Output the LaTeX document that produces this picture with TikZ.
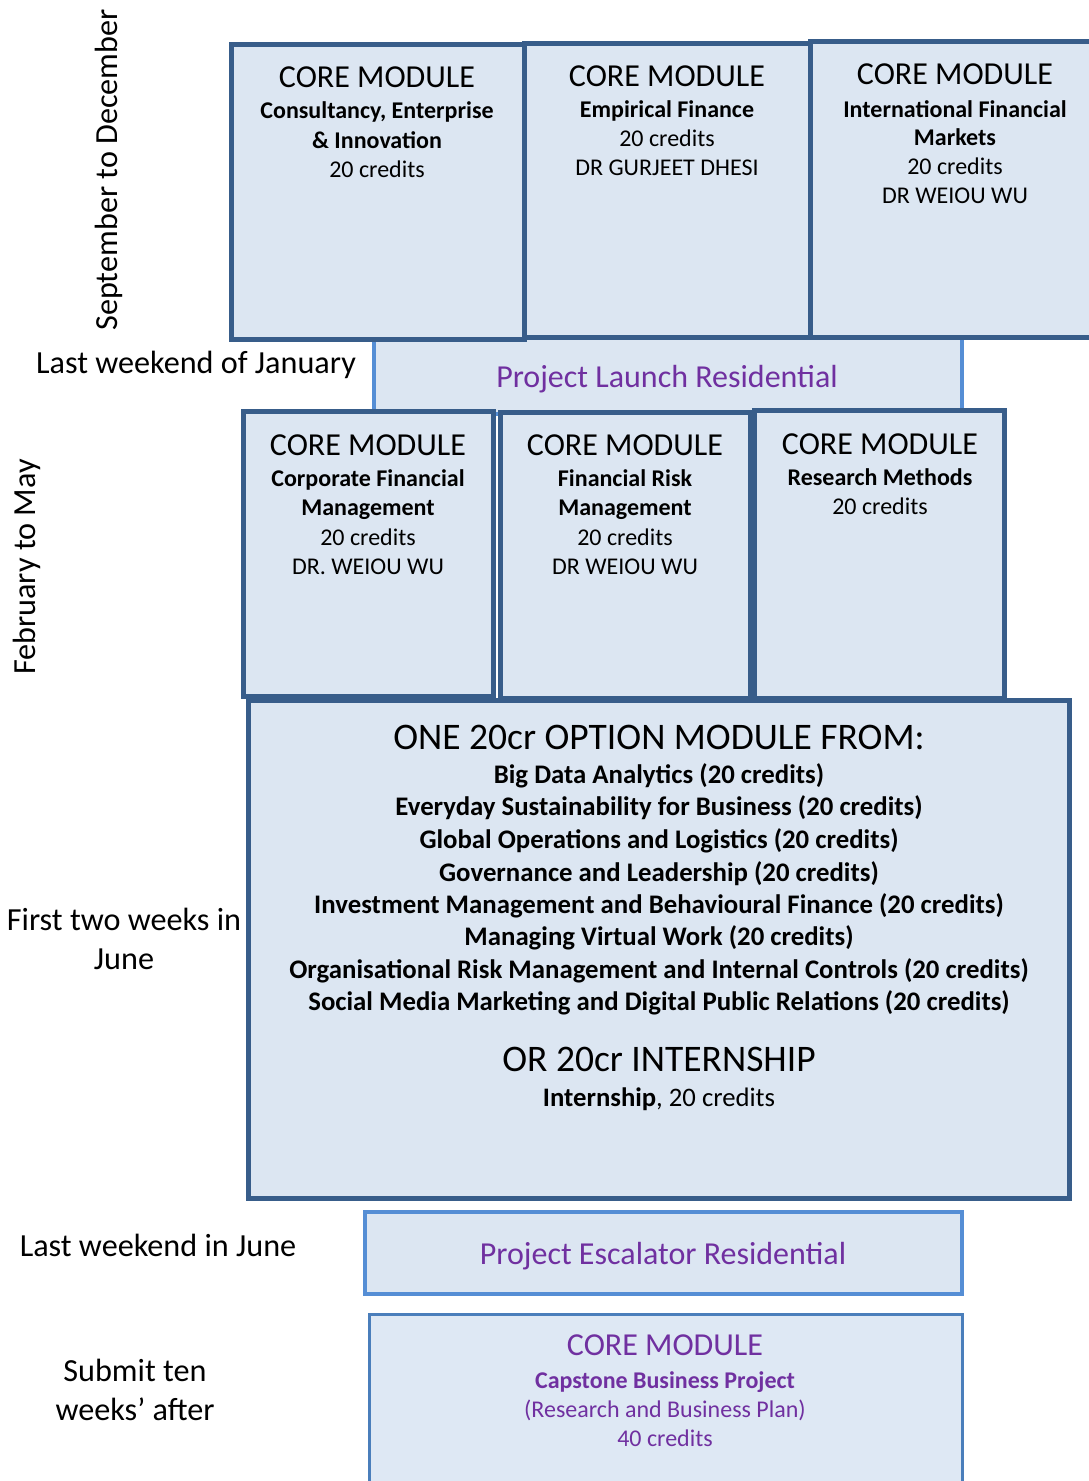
\documentclass[tikz,border=0pt]{standalone}
\usepackage{fontspec}
\setmainfont{Carlito}
\definecolor{darkb}{HTML}{385D8A}
\definecolor{fillb}{HTML}{DCE6F2}
\definecolor{fillc}{HTML}{DEE8F4}
\definecolor{lightb}{HTML}{558ED5}
\definecolor{capb}{HTML}{4A7EBB}
\definecolor{purp}{HTML}{7030A0}
\begin{document}
\begin{tikzpicture}[x=1pt,y=-1pt,
  corebox/.style={draw=darkb, line width=5pt, fill=fillb},
  resbox/.style={draw=lightb, line width=4pt, fill=fillb},
  capbox/.style={draw=capb, line width=3pt, fill=fillc},
  ttl/.style={anchor=base, inner sep=0pt, font=\fontsize{32}{36}\selectfont},
  txt/.style={anchor=base, inner sep=0pt, font=\fontsize{24}{29}\selectfont},
  btxt/.style={anchor=base, inner sep=0pt, font=\fontsize{24}{29}\selectfont\bfseries},
  opt/.style={anchor=base, inner sep=0pt, font=\fontsize{26.8}{31}\selectfont\bfseries},
  itxt/.style={anchor=base, inner sep=0pt, font=\fontsize{26.7}{31}\selectfont},
  lbl/.style={anchor=base, inner sep=0pt, font=\fontsize{32.2}{38}\selectfont},
  big/.style={anchor=base, inner sep=0pt, font=\fontsize{37.5}{42}\selectfont}]
\useasboundingbox (0,0) rectangle (1089,1481);
\clip (0,0) rectangle (1089,1481);

% Project Launch Residential (behind the rows)
\path[resbox] (373.5,336) rectangle (962,414);
% top row
\path[corebox] (231.5,44.5) rectangle (524,339.5);
\path[corebox] (524,43) rectangle (810.5,337.5);
\path[corebox] (810.5,41.5) rectangle (1110,337.5);
% second row
\path[corebox] (243.5,411.5) rectangle (493.5,696);
\path[corebox] (500.5,412) rectangle (750.5,698);
\path[corebox] (754.5,410.5) rectangle (1004.5,698);
% option box
\path[corebox] (248.5,700.5) rectangle (1069.5,1198.5);
% escalator
\path[resbox] (364.5,1211.5) rectangle (961.5,1294);
% capstone
\path[capbox] (369.3,1314.5) rectangle (962,1500);

% box 1
\node[ttl]  (b1t) at (377,87) {CORE MODULE};
\node[btxt] (b1a) at (377,118) {Consultancy, Enterprise};
\node[btxt] (b1b) at (377,148) {\& Innovation};
\node[txt]  (b1c) at (377,177) {20 credits};
% box 2
\node[ttl]  (b2t) at (667,86) {CORE MODULE};
\node[btxt] (b2a) at (667,117) {Empirical Finance};
\node[txt]  (b2b) at (667,146) {20 credits};
\node[txt]  (b2c) at (667,175) {DR GURJEET DHESI};
% box 3
\node[ttl]  (b3t) at (955,84) {CORE MODULE};
\node[btxt] (b3a) at (955,117) {International Financial};
\node[btxt] (b3b) at (955,145) {Markets};
\node[txt]  (b3c) at (955,174) {20 credits};
\node[txt]  (b3d) at (955,203) {DR WEIOU WU};

% launch residential
\node[ttl, text=purp] (lr) at (667,387) {Project Launch Residential};

% box 4
\node[ttl]  (b4t) at (368,455) {CORE MODULE};
\node[btxt] (b4a) at (368,486) {Corporate Financial};
\node[btxt] (b4b) at (368,515) {Management};
\node[txt]  (b4c) at (368,545) {20 credits};
\node[txt]  (b4d) at (368,574) {DR. WEIOU WU};
% box 5
\node[ttl]  (b5t) at (625,455) {CORE MODULE};
\node[btxt] (b5a) at (625,486) {Financial Risk};
\node[btxt] (b5b) at (625,515) {Management};
\node[txt]  (b5c) at (625,545) {20 credits};
\node[txt]  (b5d) at (625,574) {DR WEIOU WU};
% box 6
\node[ttl]  (b6t) at (880,454) {CORE MODULE};
\node[btxt] (b6a) at (880,485) {Research Methods};
\node[txt]  (b6b) at (880,514) {20 credits};

% option box
\node[big] (oh) at (659,749) {ONE 20cr OPTION MODULE FROM:};
\node[opt] (o1) at (659,783) {Big Data Analytics (20 credits)};
\node[opt] (o2) at (659,815) {Everyday Sustainability for Business (20 credits)};
\node[opt] (o3) at (659,848) {Global Operations and Logistics (20 credits)};
\node[opt] (o4) at (659,881) {Governance and Leadership (20 credits)};
\node[opt] (o5) at (659,913) {Investment Management and Behavioural Finance (20 credits)};
\node[opt] (o6) at (659,945) {Managing Virtual Work (20 credits)};
\node[opt] (o7) at (659,978) {Organisational Risk Management and Internal Controls (20 credits)};
\node[opt] (o8) at (659,1010) {Social Media Marketing and Digital Public Relations (20 credits)};
\node[big] (ih) at (659,1071) {OR 20cr INTERNSHIP};
\node[itxt] (ib) at (659,1106) {\textbf{Internship}, 20 credits};

% escalator
\node[ttl, text=purp] (er) at (663,1264) {Project Escalator Residential};

% capstone
\node[ttl, text=purp]  (ct) at (665,1355) {CORE MODULE};
\node[btxt, text=purp] (ca) at (665,1388) {Capstone Business Project};
\node[txt, text=purp]  (cb) at (665,1417) {(Research and Business Plan)};
\node[txt, text=purp]  (cc) at (665,1446) {40 credits};

% side labels
\node[lbl, rotate=90] (l1) at (117,170) {September to December};
\node[lbl] (l2) at (196,373) {Last weekend of January};
\node[lbl, rotate=90] (l3) at (35,567) {February to May};
\node[lbl] (l4a) at (124,930) {First two weeks in};
\node[lbl] (l4b) at (124,969) {June};
\node[lbl] (l5) at (158,1256) {Last weekend in June};
\node[lbl] (l6a) at (135,1381) {Submit ten};
\node[lbl] (l6b) at (135,1420) {weeks’ after};
\end{tikzpicture}
\end{document}
